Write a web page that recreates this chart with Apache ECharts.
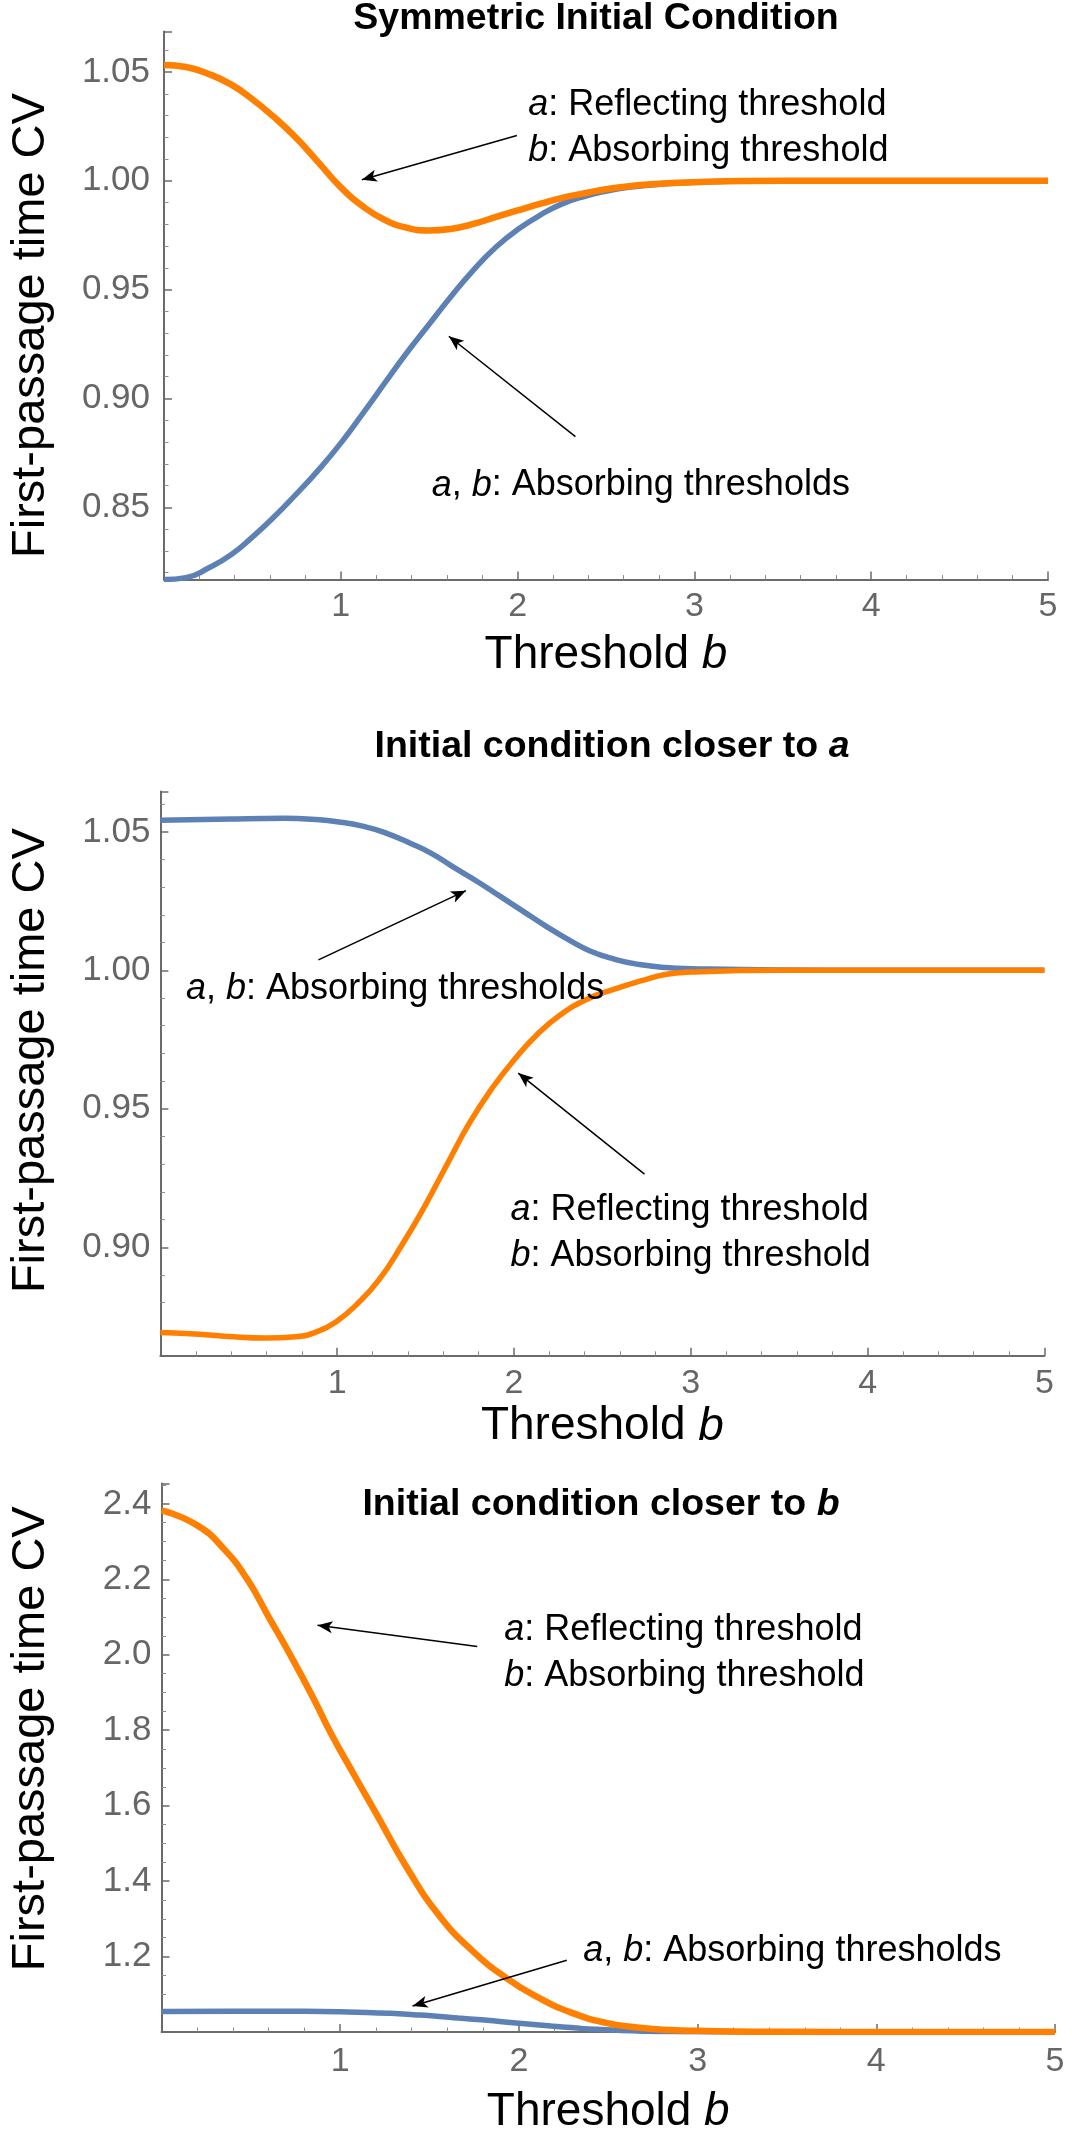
<!DOCTYPE html>
<html>
<head>
<meta charset="utf-8">
<title>First-passage time CV</title>
<script src="https://cdn.jsdelivr.net/npm/echarts@6/dist/echarts.min.js"></script>
<style>
  html, body { margin: 0; padding: 0; background: #fff; }
  #chart { width: 1072px; height: 2136px; }
</style>
</head>
<body>
<div id="chart"></div>
<script>
var FONT = "'Liberation Sans', Arial, Helvetica, sans-serif";

// panel titles and axis names
var titles = [
  'Symmetric Initial Condition',
  'Initial condition closer to {i|a}',
  'Initial condition closer to {i|b}'
];
var xName = 'Threshold {i|b}';
var yName = 'First-passage time CV';

// panel 1: symmetric initial condition
var b1 = [0, 0.124, 0.252, 0.381, 0.498, 0.616, 0.744, 0.873, 1.0, 1.129, 1.247, 1.365, 1.493, 1.621, 1.75, 1.878, 2.0, 2.135, 2.252, 2.381, 2.498, 2.627, 2.755, 3.0, 3.5, 4, 5];
var absorb1 = [0.8168, 0.8177, 0.8221, 0.8283, 0.8362, 0.8451, 0.8557, 0.8671, 0.8795, 0.8936, 0.9069, 0.9201, 0.9334, 0.9466, 0.959, 0.9696, 0.9776, 0.9846, 0.9894, 0.9929, 0.9952, 0.997, 0.9981, 0.9994, 1.0, 1.0, 1.0];
var reflect1 = [1.0532, 1.0523, 1.0491, 1.0442, 1.0376, 1.0297, 1.020, 1.0085, 0.997, 0.988, 0.9821, 0.9786, 0.9772, 0.9779, 0.9802, 0.9834, 0.9864, 0.9896, 0.9922, 0.9943, 0.9961, 0.9975, 0.9984, 0.9994, 1.0, 1.0, 1.0];

// panel 2: initial condition closer to a
var b2a = [0, 0.4, 0.7, 0.9, 1.0, 1.15, 1.28, 1.41, 1.54, 1.66, 1.79, 1.92, 2.05, 2.18, 2.31, 2.43, 2.57, 2.71, 2.86, 3.0, 3.5, 4, 5];
var absorb2 = [1.0542, 1.0547, 1.0549, 1.0544, 1.0537, 1.052, 1.0495, 1.046, 1.042, 1.0372, 1.0322, 1.0268, 1.0214, 1.016, 1.011, 1.007, 1.004, 1.0021, 1.001, 1.0006, 1.0001, 1.0, 1.0];
var b2r = [0, 0.167, 0.381, 0.595, 0.766, 0.894, 1.0, 1.108, 1.236, 1.365, 1.493, 1.621, 1.75, 1.878, 2.0, 2.135, 2.263, 2.413, 2.563, 2.734, 2.862, 3.0, 3.5, 4, 5];
var reflect2 = [0.8692, 0.8688, 0.8678, 0.8672, 0.8677, 0.8697, 0.8734, 0.8792, 0.8882, 0.9007, 0.9146, 0.9299, 0.9451, 0.9576, 0.9676, 0.9771, 0.984, 0.9896, 0.9931, 0.9965, 0.9986, 0.9994, 1.0, 1.0, 1.0];

// panel 3: initial condition closer to b
var b3a = [0, 0.4, 0.7, 0.9, 1.0, 1.15, 1.28, 1.41, 1.54, 1.66, 1.79, 1.92, 2.05, 2.18, 2.31, 2.43, 2.57, 2.71, 2.86, 3.0, 3.5, 4, 5];
var absorb3 = [1.0542, 1.0547, 1.0549, 1.0544, 1.0537, 1.052, 1.0495, 1.046, 1.042, 1.0372, 1.0322, 1.0268, 1.0214, 1.016, 1.011, 1.007, 1.004, 1.0021, 1.001, 1.0006, 1.0001, 1.0, 1.0];
var b3r = [0, 0.2, 0.35, 0.48, 0.6, 0.72, 0.85, 0.95, 1.08, 1.2, 1.38, 1.56, 1.74, 1.93, 2.11, 2.29, 2.48, 2.66, 2.85, 3.0, 3.5, 4, 5];
var reflect3 = [2.383, 2.343, 2.28, 2.20, 2.10, 2.0, 1.885, 1.79, 1.68, 1.58, 1.43, 1.305, 1.215, 1.143, 1.091, 1.052, 1.025, 1.012, 1.005, 1.003, 1.0005, 1.0, 1.0];

// axis ranges of each panel
var yMin = [0.8168, 0.8608, 1.0];
var yMax = [1.0686, 1.0646, 2.454];
var yStep = [0.05, 0.05, 0.2];

// annotation arrows [from, to] and texts, in data units
var arrows = [
  [[[1.996, 1.0208], [1.119, 1.0005]], [[2.327, 0.8825], [1.611, 0.9286]]],
  [[[0.894, 1.0038], [1.728, 1.0288]], [[2.738, 0.9264], [2.024, 0.9629]]],
  [[[1.767, 2.022], [0.873, 2.078]], [[2.268, 1.19], [1.405, 1.069]]]
];
var notes = [
  [[2.06, 1.0242, '{i|a}: Reflecting threshold\n{i|b}: Absorbing threshold'],
   [1.514, 0.860, '{i|a}, {i|b}: Absorbing thresholds']],
  [[0.145, 0.9931, '{i|a}, {i|b}: Absorbing thresholds'],
   [1.98, 0.905, '{i|a}: Reflecting threshold\n{i|b}: Absorbing threshold']],
  [[1.918, 2.004, '{i|a}: Reflecting threshold\n{i|b}: Absorbing threshold'],
   [2.36, 1.215, '{i|a}, {i|b}: Absorbing thresholds']]
];

function zip(xs, ys) {
  return xs.map(function (x, i) { return [x, ys[i]]; });
}

var BLUE = '#5E81B5';
var ORANGE = '#FF7F00';
var AXIS = '#6b6b6b';

var grids = [
  { left: 149, right: 24, top: 31.5, bottom: 1556.4 },
  { left: 145.4, right: 27.6, top: 791.5, bottom: 780.2 },
  { left: 146.5, right: 17, top: 1483.5, bottom: 97.5 }
];
var titlePos = [[596, 4], [612, 732], [601, 1490]];
var yLabelMargin = [14, 10, 10];
var xLabelMargin = [10, 11, 13];
var xNameGap = [53, 48, 57];
var yNamePad = [[0, 40, 0, 0], [0, 0, 0, 26], [0, 0, 0, 38]];

function axisCommon() {
  return {
    axisLine: { show: true, onZero: false, lineStyle: { color: AXIS, width: 2 } },
    axisTick: { show: true, inside: true, length: 8, lineStyle: { color: AXIS, width: 1.5 } },
    minorTick: { show: true, length: 4.5, lineStyle: { color: '#8c8c8c', width: 1 } },
    splitLine: { show: false }
  };
}

var xAxes = [], yAxes = [];
[0, 1, 2].forEach(function (i) {
  var xa = axisCommon();
  xa.gridIndex = i;
  xa.type = 'value';
  xa.min = 0;
  xa.max = 5;
  xa.interval = 1;
  xa.minorTick.splitNumber = 5;
  xa.name = xName;
  xa.nameLocation = 'middle';
  xa.nameGap = xNameGap[i];
  xa.nameTextStyle = {
    fontFamily: FONT, fontSize: 46, color: '#000',
    rich: { i: { fontFamily: FONT, fontSize: 46, fontStyle: 'italic', color: '#000' } }
  };
  xa.axisLabel = {
    fontFamily: FONT, fontSize: 34, color: '#666', margin: xLabelMargin[i],
    formatter: function (v) { return v > 0 ? String(v) : ''; }
  };
  xAxes.push(xa);

  var ya = axisCommon();
  ya.gridIndex = i;
  ya.type = 'value';
  ya.min = yMin[i];
  ya.max = yMax[i];
  ya.minInterval = yStep[i];
  ya.maxInterval = yStep[i];
  ya.minorTick.splitNumber = i === 2 ? 4 : 5;
  ya.name = yName;
  ya.nameLocation = 'middle';
  ya.nameGap = grids[i].left - 40;
  ya.nameTextStyle = { fontFamily: FONT, fontSize: 47, color: '#000', padding: yNamePad[i] };
  ya.axisLabel = {
    fontFamily: FONT, fontSize: 35, color: '#666', margin: yLabelMargin[i],
    showMinLabel: false, showMaxLabel: false,
    formatter: (function (d) { return function (v) { return v.toFixed(d); }; })(i === 2 ? 1 : 2)
  };
  yAxes.push(ya);
});

var noteLabel = {
  show: true, position: 'right', distance: 0,
  fontFamily: FONT, fontSize: 36, lineHeight: 46, color: '#000',
  rich: { i: { fontFamily: FONT, fontSize: 36, lineHeight: 46, fontStyle: 'italic', color: '#000' } }
};

function curve(i, name, data, color, width, withNotes) {
  var s = {
    name: name, type: 'line', xAxisIndex: i, yAxisIndex: i,
    data: data, showSymbol: false, symbol: 'none', smooth: 0.5,
    lineStyle: { color: color, width: width }, itemStyle: { color: color },
    silent: true
  };
  if (withNotes) {
    s.markLine = {
      silent: true, symbol: ['none', 'arrow'], symbolSize: [9, 15],
      lineStyle: { color: '#000', width: 1.5, type: 'solid' },
      label: { show: false },
      data: arrows[i].map(function (a) { return [{ coord: a[0] }, { coord: a[1] }]; })
    };
    s.markPoint = {
      silent: true, symbol: 'circle', symbolSize: 0,
      itemStyle: { color: 'rgba(0,0,0,0)' },
      label: noteLabel,
      data: notes[i].map(function (n) {
        return { coord: [n[0], n[1]], label: { formatter: n[2] } };
      })
    };
  }
  return s;
}

var series = [
  curve(0, 'a, b: Absorbing thresholds', zip(b1, absorb1), BLUE, 5.5, false),
  curve(0, 'a: Reflecting threshold', zip(b1, reflect1), ORANGE, 6.5, true),
  curve(1, 'a, b: Absorbing thresholds', zip(b2a, absorb2), BLUE, 5.5, false),
  curve(1, 'a: Reflecting threshold', zip(b2r, reflect2), ORANGE, 5.5, true),
  curve(2, 'a, b: Absorbing thresholds', zip(b3a, absorb3), BLUE, 5.5, false),
  curve(2, 'a: Reflecting threshold', zip(b3r, reflect3), ORANGE, 6.5, true)
];

var chart = echarts.init(document.getElementById('chart'));
chart.setOption({
  animation: false,
  backgroundColor: '#fff',
  title: titles.map(function (t, i) {
    return {
      text: t, left: titlePos[i][0], top: titlePos[i][1], textAlign: 'center', padding: 0,
      textStyle: {
        fontFamily: FONT, fontSize: 37.5, fontWeight: 'bold', color: '#000', lineHeight: 30,
        rich: { i: { fontFamily: FONT, fontSize: 37.5, fontWeight: 'bold', fontStyle: 'italic', color: '#000', lineHeight: 30 } }
      }
    };
  }),
  grid: grids,
  xAxis: xAxes,
  yAxis: yAxes,
  series: series
});
</script>
</body>
</html>
